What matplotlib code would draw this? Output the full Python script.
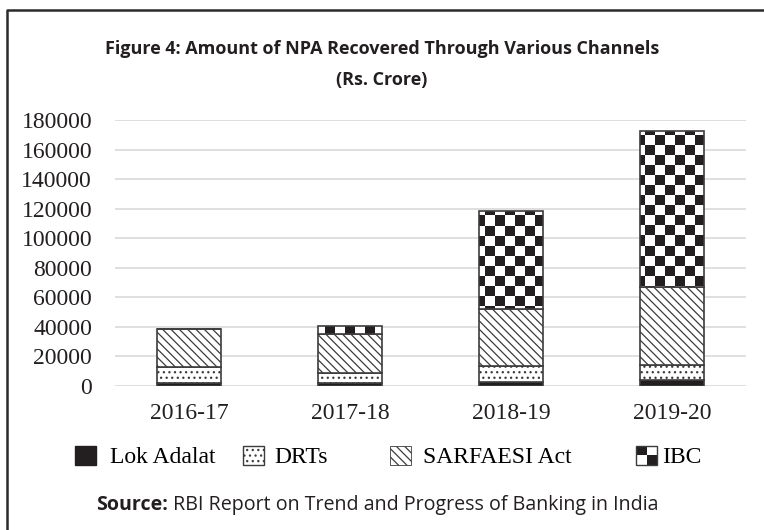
import numpy as np
import matplotlib
matplotlib.use("Agg")
import matplotlib.pyplot as plt
from matplotlib.patches import Rectangle
from matplotlib.lines import Line2D
from matplotlib.colors import ListedColormap
from matplotlib.legend_handler import HandlerBase

# NPA recovered through various channels (Rs. crore)
years = ["2016-17", "2017-18", "2018-19", "2019-20"]
lok_adalat = [2254, 1811, 2816, 4211]
drts = [10332, 7235, 10574, 10018]
sarfaesi = [25801, 26380, 38905, 52563]
ibc = [0, 4926, 66440, 105773]
y_ticks = [0, 20000, 40000, 60000, 80000, 100000, 120000, 140000, 160000, 180000]
labels = ["Lok Adalat", "DRTs", "SARFAESI Act", "IBC"]

BLACK = "#231f20"
EDGE = "#3c3c3c"
SERIF = "Liberation Serif"
SANS = "Open Sans"

plt.rcParams["hatch.linewidth"] = 0.9
plt.rcParams["hatch.color"] = EDGE

W, H = 764, 530
fig = plt.figure(figsize=(W / 100, H / 100), dpi=100)
ax_l, ax_b, ax_w, ax_h = 115, 386, 631, 266
ax = fig.add_axes([ax_l / W, 1 - ax_b / H, ax_w / W, ax_h / H])

x = np.arange(len(years))
bw = 0.394
lok = np.array(lok_adalat)
drt = np.array(drts)
sar = np.array(sarfaesi)
ib = np.array(ibc)

ax.bar(x, lok, bw, color=BLACK, edgecolor=EDGE, linewidth=1.2, zorder=3)
ax.bar(x, drt, bw, bottom=lok, color="white", edgecolor=EDGE, linewidth=1.2,
       hatch="...", zorder=3)
ax.bar(x, sar, bw, bottom=lok + drt, color="white", edgecolor=EDGE, linewidth=1.2,
       hatch="\\\\\\\\", zorder=3)
ibc_bars = ax.bar(x, ib, bw, bottom=lok + drt + sar, facecolor="none",
                  edgecolor=EDGE, linewidth=1.2, zorder=4)

# checkerboard fill for IBC, clipped to each bar
cell = 10
nc = ax_w // cell + 2
nr = ax_h // cell + 2
checker = np.indices((nr, nc)).sum(axis=0) % 2
for b in ibc_bars:
    if b.get_height() <= 0:
        continue
    im = ax.imshow(checker, cmap=ListedColormap(["white", BLACK]),
                   interpolation="nearest", aspect="auto",
                   extent=(0, nc * cell / ax_w, 0, nr * cell / ax_h),
                   transform=ax.transAxes, zorder=3.5)
    im.set_clip_path(b)

ax.set_xlim(-0.4596, 3.459)
ax.set_ylim(0, 180000)
ax.set_yticks(y_ticks)
ax.set_yticklabels([str(v) for v in y_ticks])
ax.set_xticks(x)
ax.set_xticklabels(years)
ax.yaxis.grid(True, color="#d9d9d9", linewidth=1.2)
ax.set_axisbelow(True)
for s in ax.spines.values():
    s.set_visible(False)
ax.tick_params(axis="both", length=0, labelsize=17, colors="#231f20")
ax.tick_params(axis="y", pad=16.5)
ax.tick_params(axis="x", pad=12)
for t in ax.get_xticklabels() + ax.get_yticklabels():
    t.set_fontfamily(SERIF)


class HandlerChecker(HandlerBase):
    def create_artists(self, legend, orig_handle, xdescent, ydescent,
                       width, height, fontsize, trans):
        w, h = width / 2, height / 2
        arts = []
        for i, j, c in [(0, 1, BLACK), (1, 1, "white"), (0, 0, "white"), (1, 0, BLACK)]:
            arts.append(Rectangle((-xdescent + i * w, -ydescent + j * h), w, h,
                                  facecolor=c, edgecolor="none", transform=trans))
        arts.append(Rectangle((-xdescent, -ydescent), width, height,
                              facecolor="none", edgecolor=EDGE, lw=1.0,
                              transform=trans))
        return arts


handles = [
    Rectangle((0, 0), 1, 1, facecolor=BLACK, edgecolor=BLACK),
    Rectangle((0, 0), 1, 1, facecolor="white", edgecolor=EDGE, hatch="...", lw=1.0),
    Rectangle((0, 0), 1, 1, facecolor="white", edgecolor=EDGE, hatch="\\\\\\\\", lw=0.6),
    Rectangle((0, 0), 1, 1, facecolor="white", edgecolor=EDGE),
]
leg_x = [75, 243, 390, 636]
leg_pad = [0.6, 0.45, 0.5, 0.2]
for hnd, lab, lx, pad in zip(handles, labels, leg_x, leg_pad):
    fig.legend([hnd], [lab], loc="center left",
               bbox_to_anchor=(lx / W, 1 - 457 / H), frameon=False,
               borderpad=0, borderaxespad=0, handlelength=0.89,
               handleheight=0.85, handletextpad=pad,
               prop={"family": SERIF, "size": 17},
               handler_map={handles[3]: HandlerChecker()})

fig.text(0.5, 1 - 54 / H, "Figure 4: Amount of NPA Recovered Through Various Channels",
         ha="center", va="baseline", fontsize=13.0, fontweight="bold",
         family=SANS, color="#231f20")
fig.text(0.5, 1 - 85 / H, "(Rs. Crore)", ha="center", va="baseline",
         fontsize=13.0, fontweight="bold", family=SANS, color="#231f20")

src = fig.text(96 / W, 1 - 510 / H, "Source:", ha="left", va="baseline",
               fontsize=14.1, fontweight="bold", family=SANS, color="#231f20")
ax.annotate(" RBI Report on Trend and Progress of Banking in India",
            xy=(1, 0), xycoords=src, ha="left", va="bottom",
            fontsize=14.1, family=SANS, color="#231f20", annotation_clip=False)

# outer frame (left and top edges visible)
fig.add_artist(Line2D([7 / W, 7 / W, 1.01], [-0.01, 1 - 10 / H, 1 - 10 / H],
                      transform=fig.transFigure, color="#2b2b2b", linewidth=1.8))

fig.savefig("out.png", dpi=100)
